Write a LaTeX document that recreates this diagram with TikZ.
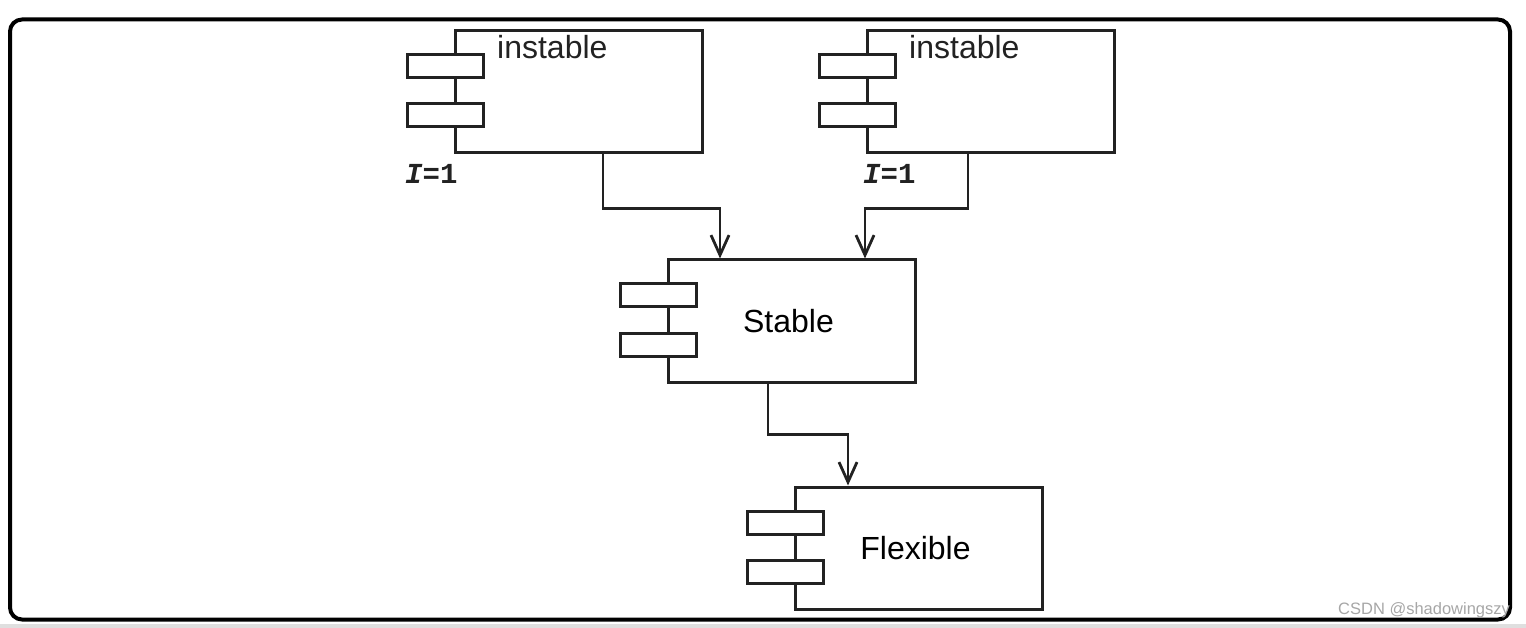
\documentclass[tikz,border=0pt]{standalone}
\usepackage{fontspec}
\setmainfont{Liberation Sans}
\newfontfamily\codefont{Liberation Mono}
\usepackage{tikz}
\usetikzlibrary{arrows.meta,positioning}

\definecolor{ink}{HTML}{222222}
\tikzset{
  comp/.style={draw=ink, line width=3pt, minimum width=247pt, minimum height=122pt, inner sep=0pt},
  port/.style={draw=ink, fill=white, line width=3pt, minimum width=76pt, minimum height=23pt, inner sep=0pt},
  comptitle/.style={text=ink, font=\fontsize{32}{38}\selectfont},
  metric/.style={text=ink, font=\codefont\bfseries\fontsize{29}{32}\selectfont},
  dep/.style={draw=ink, line width=2.8pt, -{Straight Barb[length=20pt,width=18pt]}}
}

\begin{document}
\begin{tikzpicture}[x=1pt,y=-1pt]
\useasboundingbox (0,0) rectangle (1526,628);
% outer frame
\draw[line width=4pt, rounded corners=12pt] (10,19.5) rectangle (1510,619.5);
\fill[gray!25] (0,624) rectangle (1526,628);

% components
\node[comp] (insL) at (578.5,92) {};
\node[comp] (insR) at (990.5,92) {};
\node[comp] (stab) at (791.5,321) {\hspace*{-6pt}\fontsize{32}{38}\selectfont Stable};
\node[comp] (flex) at (918.5,548) {\hspace*{-6pt}\fontsize{32}{38}\selectfont Flexible};

% ports on the left edge of each component
\foreach \c in {insL,insR,stab,flex}{
  \node[port] (\c-p1) at ([shift={(-8.5,37)}]\c.north west) {};
  \node[port] (\c-p2) at ([shift={(-8.5,86)}]\c.north west) {};
}

% labels
\node[comptitle, anchor=base west, inner sep=0pt] (insL-txt) at (497,59) {instable};
\node[comptitle, anchor=base west, inner sep=0pt] (insR-txt) at (909,59) {instable};
\node[metric, anchor=base west, inner sep=0pt] (insL-i) at (405,184) {\textit{I}=1};
\node[metric, anchor=base west, inner sep=0pt] (insR-i) at (863,184) {\textit{I}=1};

% dependencies
\draw[dep] ([xshift=24.5pt]insL.south) -- ++(0,54) -| ([xshift=-71.5pt]stab.north);
\draw[dep] ([xshift=-22.5pt]insR.south) -- ++(0,54) -| ([xshift=73.5pt]stab.north);
\draw[dep] ([xshift=-23.5pt]stab.south) -- ++(0,51) -| ([xshift=-70.5pt]flex.north);

% watermark
\node[anchor=base west, inner sep=0pt, text=gray!70, font=\fontsize{16.5}{18}\selectfont] (mark) at (1338,614) {CSDN @shadowingszy};
\end{tikzpicture}
\end{document}
